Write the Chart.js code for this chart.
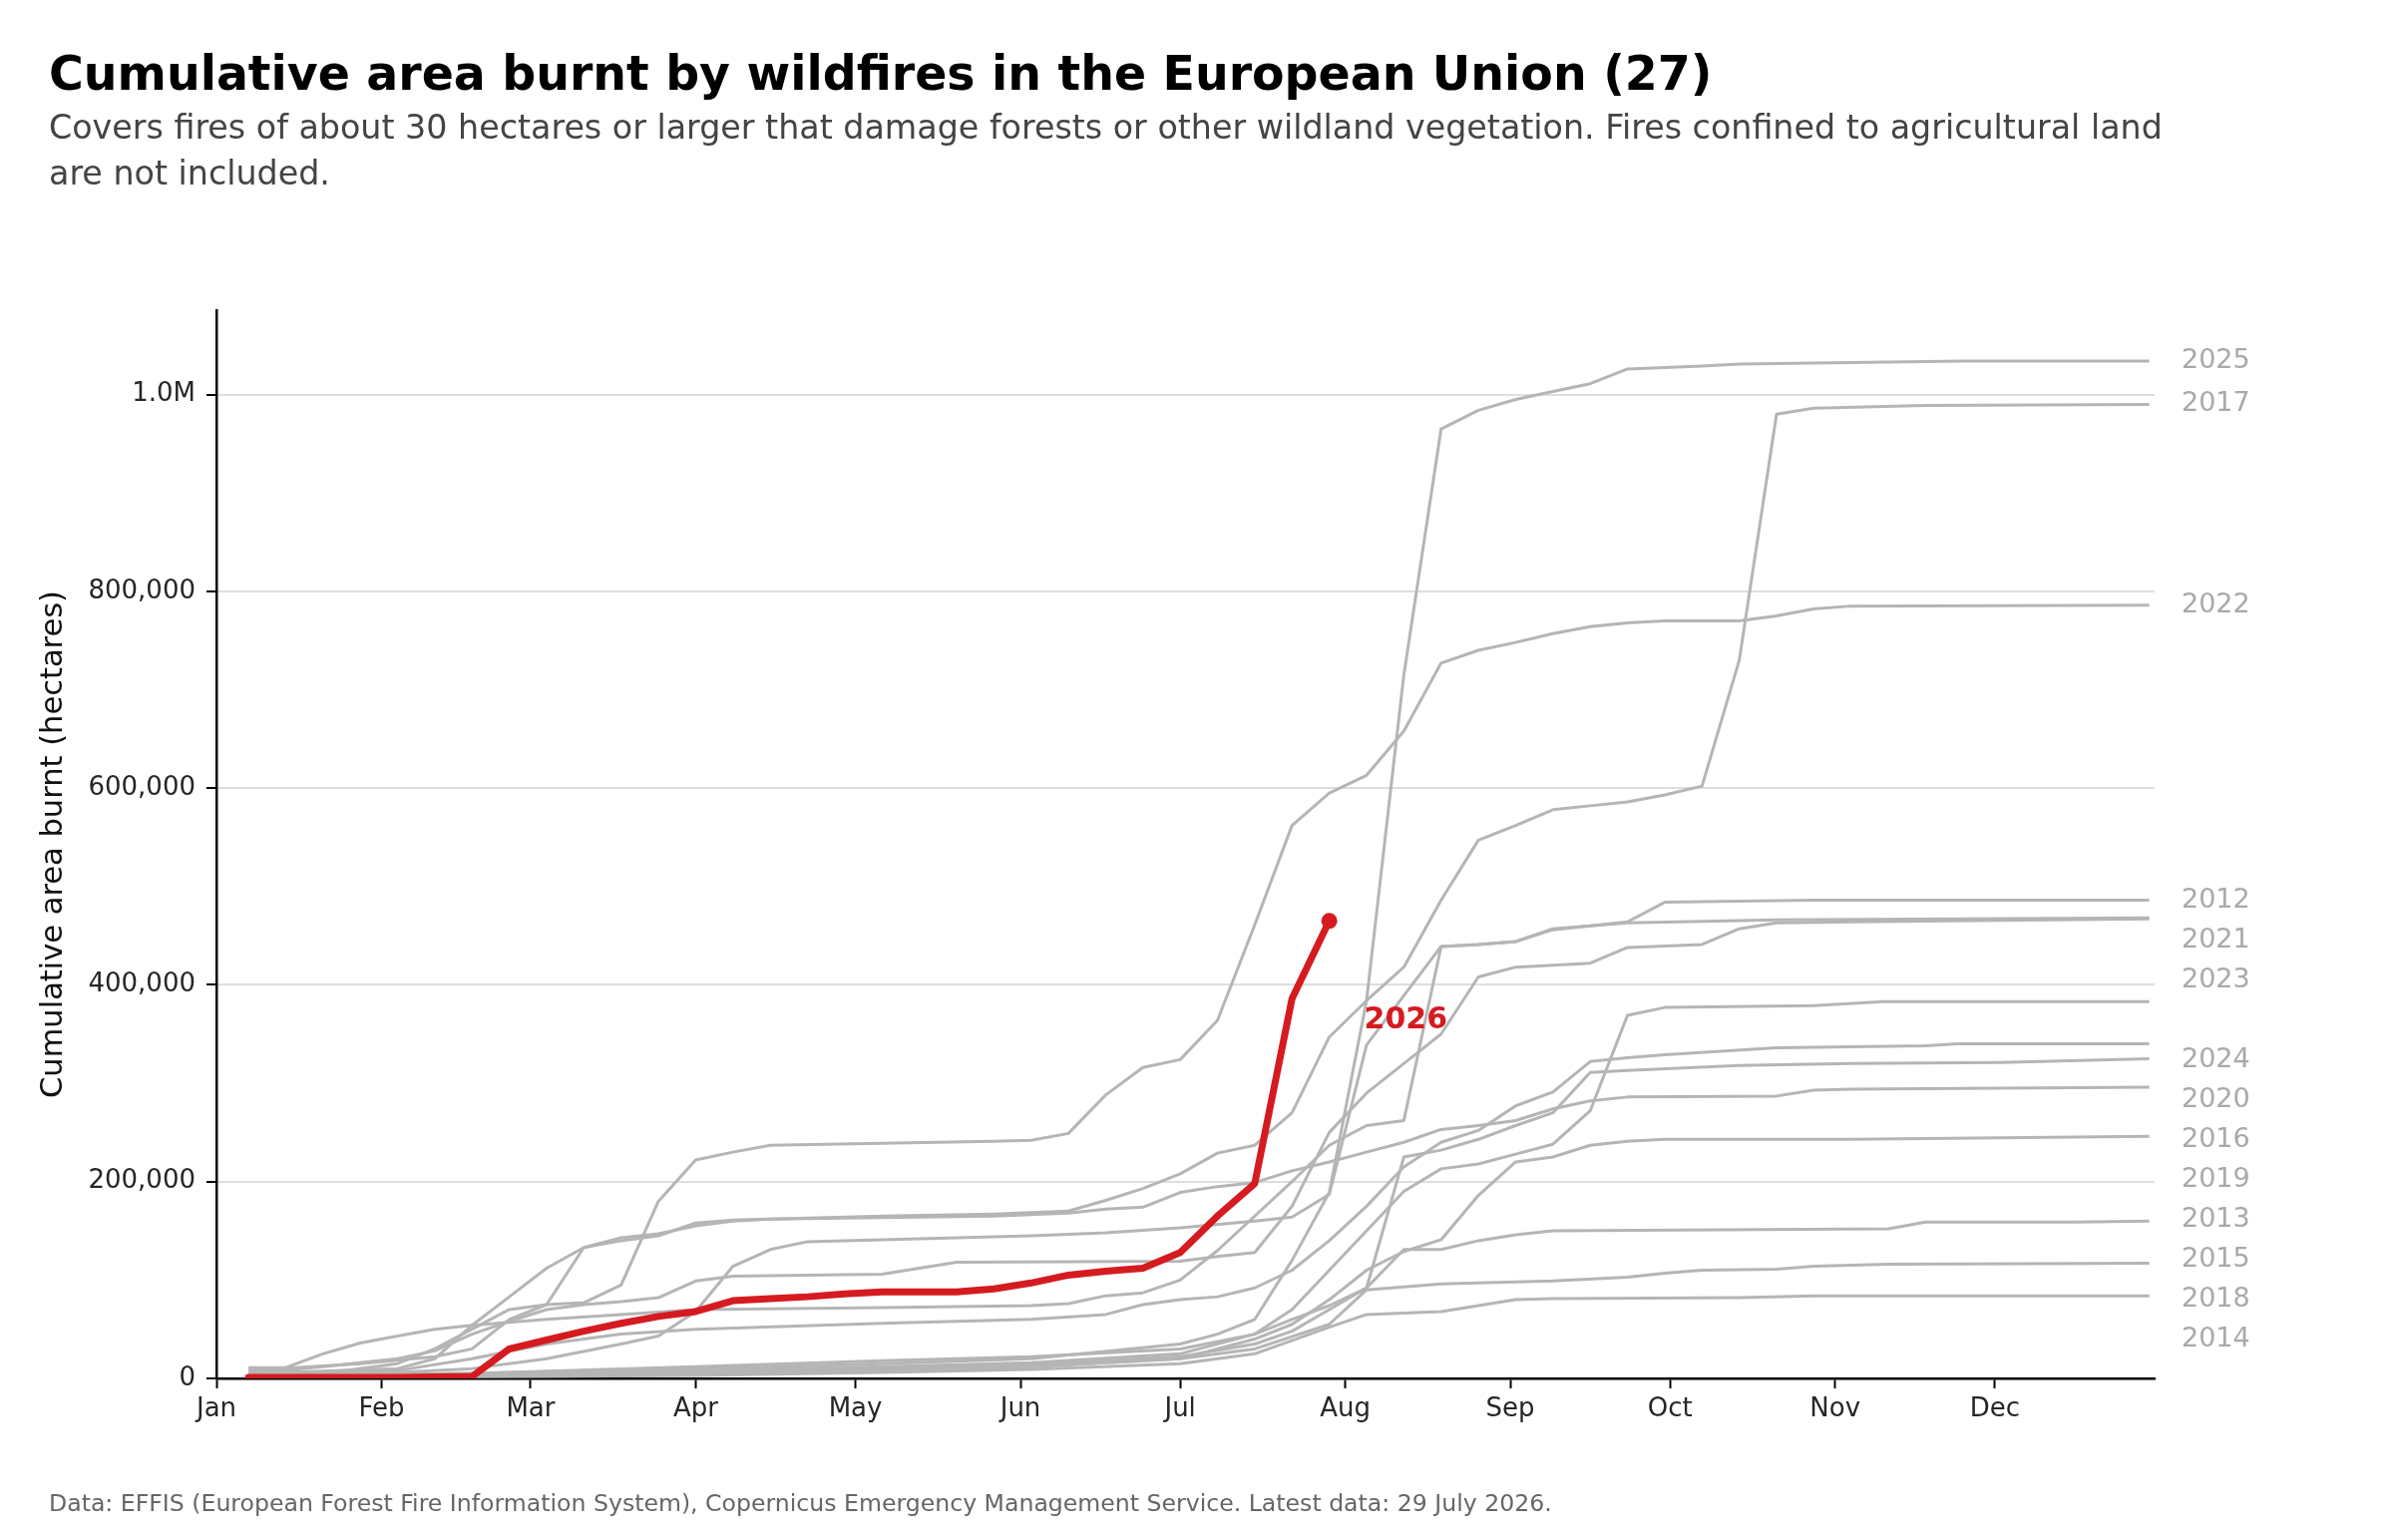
<!DOCTYPE html>
<html>
<head>
<meta charset="utf-8">
<script src="https://cdn.jsdelivr.net/npm/chart.js@4.4.1/dist/chart.umd.min.js"></script>
<style>
  html, body { margin: 0; padding: 0; background: #fff; }
  #wrap { width: 2400px; height: 1544px; }
</style>
</head>
<body>
<div id="wrap"><canvas id="chart" width="2400" height="1544"></canvas></div>
<script>
// values in thousand hectares, [day of year, cumulative area]
var K = 1000;

var y2012 = [[6,3],[34,6],[48,10],[62,20],[76,35],[83,43],[90,68],[97,114],[104,131],[111,139],[139,143],[153,145],[167,148],[181,153],[195,160],[202,164],[209,187],[216,339],[230,439],[237,441],[244,444],[251,457],[258,460],[265,464],[272,484],[300,486],[363,486]];
var y2013 = [[6,1],[62,3],[90,5],[125,8],[153,12],[181,20],[195,40],[202,55],[209,80],[216,110],[223,129],[230,141],[237,186],[244,220],[251,225],[258,237],[265,241],[272,243],[307,243],[363,246]];
var y2014 = [[6,1],[62,2],[90,3],[125,6],[153,9],[181,15],[195,25],[209,52],[216,65],[230,68],[237,74],[244,80],[251,81],[286,82],[300,84],[363,84]];
var y2015 = [[6,2],[62,5],[90,8],[125,12],[153,16],[181,25],[195,45],[202,60],[209,74],[216,92],[223,131],[230,131],[237,140],[244,146],[251,150],[314,152],[321,159],[349,159],[363,160]];
var y2016 = [[6,1],[48,3],[90,6],[125,10],[153,14],[181,22],[195,35],[202,48],[209,70],[216,92],[223,225],[230,232],[237,243],[244,257],[251,270],[258,311],[265,313],[286,318],[307,320],[335,321],[363,325]];
var y2017 = [[6,5],[34,10],[41,20],[48,54],[55,83],[62,112],[69,133],[76,140],[83,145],[90,158],[97,161],[104,162],[125,165],[146,167],[160,170],[167,181],[174,193],[181,208],[188,229],[195,237],[202,270],[209,347],[216,384],[223,418],[230,486],[237,547],[244,562],[251,578],[258,582],[265,586],[272,593],[279,602],[286,730],[293,980],[300,986],[321,989],[363,990]];
var y2018 = [[6,1],[62,3],[90,5],[125,9],[153,12],[181,20],[195,30],[209,55],[216,90],[230,96],[251,99],[265,103],[272,107],[279,110],[293,111],[300,114],[314,116],[363,117]];
var y2019 = [[6,8],[27,15],[41,22],[48,30],[55,60],[62,75],[69,133],[76,143],[83,147],[90,155],[97,160],[104,162],[146,165],[160,168],[167,172],[174,174],[181,189],[188,195],[195,199],[202,211],[209,220],[216,230],[223,240],[230,253],[237,257],[244,262],[251,274],[258,282],[265,286],[293,287],[300,293],[307,294],[363,296]];
var y2020 = [[6,2],[34,8],[48,20],[62,35],[76,45],[90,50],[125,56],[153,60],[167,65],[174,75],[181,80],[188,83],[195,92],[202,110],[209,140],[216,175],[223,215],[230,240],[237,252],[244,277],[251,291],[258,322],[265,326],[272,329],[293,336],[307,337],[321,338],[327,340],[363,340]];
var y2021 = [[6,11],[13,11],[20,25],[27,36],[34,43],[41,50],[48,54],[62,60],[76,65],[90,70],[125,72],[153,74],[160,76],[167,84],[174,87],[181,100],[188,130],[195,165],[202,200],[209,237],[216,257],[223,262],[230,439],[237,441],[244,444],[251,456],[258,460],[265,463],[293,466],[363,468]];
var y2022 = [[6,2],[20,5],[34,15],[41,30],[48,50],[55,70],[62,75],[69,77],[76,95],[83,180],[90,222],[97,230],[104,237],[146,241],[153,242],[160,249],[167,288],[174,316],[181,324],[188,364],[195,461],[202,562],[209,595],[216,613],[223,658],[230,727],[237,740],[244,748],[251,757],[258,764],[265,768],[272,770],[286,770],[293,775],[300,782],[307,785],[363,786]];
var y2023 = [[6,5],[20,12],[34,20],[41,28],[48,45],[55,58],[62,70],[69,75],[76,78],[83,82],[90,99],[97,104],[125,106],[139,118],[181,119],[188,124],[195,128],[202,175],[209,250],[216,290],[223,320],[230,350],[237,408],[244,418],[251,420],[258,422],[265,438],[279,441],[286,457],[293,463],[307,464],[363,467]];
var y2024 = [[6,2],[48,5],[90,12],[125,18],[153,22],[181,30],[195,45],[202,70],[209,110],[216,150],[223,190],[230,213],[237,218],[244,228],[251,238],[258,272],[265,369],[272,377],[300,379],[313,383],[363,383]];
var y2025 = [[6,2],[48,5],[90,10],[125,15],[153,20],[181,35],[188,45],[195,60],[202,120],[209,189],[216,384],[223,715],[230,965],[237,984],[244,995],[251,1003],[258,1011],[265,1026],[279,1029],[286,1031],[300,1032],[328,1034],[363,1034]];

// current year, weekly
var days2026 = [6,13,20,27,34,41,48,55,62,69,76,83,90,97,104,111,118,125,132,139,146,153,160,167,174,181,188,195,202,209];
var burnt2026 = [1,1,1,1,1,1.5,2,30,39,48,56,63,68,79,81,83,86,88,88,88,91,97,105,109,112,128,165,198,386,465];

var pastYears = [2012,2013,2014,2015,2016,2017,2018,2019,2020,2021,2022,2023,2024,2025];
var pastSeries = [y2012,y2013,y2014,y2015,y2016,y2017,y2018,y2019,y2020,y2021,y2022,y2023,y2024,y2025];

var monthStarts = [0,31,59,90,120,151,181,212,243,273,304,334];
var monthNames = ['Jan','Feb','Mar','Apr','May','Jun','Jul','Aug','Sep','Oct','Nov','Dec'];
var yTicks = [0,200000,400000,600000,800000,1000000];

var GREY = '#b5b5b5';
var RED = '#d51b20';

var datasets = [];
var red = days2026.map(function(d, i) { return {x: d, y: burnt2026[i] * K}; });
datasets.push({
  label: '2026',
  data: red,
  borderColor: RED,
  backgroundColor: RED,
  borderWidth: 7,
  pointRadius: function(c) { return c.dataIndex === red.length - 1 ? 8 : 0; },
  pointBorderWidth: 0,
  borderJoinStyle: 'round',
  borderCapStyle: 'round'
});
pastSeries.forEach(function(s, i) {
  datasets.push({
    label: String(pastYears[i]),
    data: s.map(function(p) { return {x: p[0], y: p[1] * K}; }),
    borderColor: GREY,
    borderWidth: 3,
    pointRadius: 0,
    borderJoinStyle: 'round'
  });
});

var maxVal = 0;
datasets.forEach(function(ds) { ds.data.forEach(function(p) { if (p.y > maxVal) maxVal = p.y; }); });

var FONT = '"DejaVu Sans", Verdana, sans-serif';

var textPlugin = {
  id: 'texts',
  afterDatasetsDraw: function(chart) {
    var ctx = chart.ctx;
    var ys = chart.scales.y;
    var xs = chart.scales.x;
    ctx.save();

    // year labels at line ends, pushed apart so they don't overlap
    // (the current year keeps a slot in the stack but is labelled on the line itself)
    var labels = [];
    for (var i = 0; i < chart.data.datasets.length; i++) {
      var d = chart.data.datasets[i].data;
      labels.push({text: chart.data.datasets[i].label, y: ys.getPixelForValue(d[d.length - 1].y), hidden: i === 0});
    }
    labels.sort(function(a, b) { return a.y - b.y; });
    for (var j = 1; j < labels.length; j++) {
      if (labels[j].y < labels[j - 1].y + 40) labels[j].y = labels[j - 1].y + 40;
    }
    ctx.font = '27px ' + FONT;
    ctx.fillStyle = '#a9a9a9';
    ctx.textAlign = 'left';
    ctx.textBaseline = 'middle';
    labels.forEach(function(l) {
      if (!l.hidden) ctx.fillText(l.text, chart.chartArea.right + 27, l.y);
    });

    // current year label
    var last = chart.data.datasets[0].data[chart.data.datasets[0].data.length - 1];
    ctx.font = 'bold 30px ' + FONT;
    ctx.fillStyle = RED;
    ctx.textBaseline = 'alphabetic';
    ctx.fillText('2026', xs.getPixelForValue(last.x) + 35, ys.getPixelForValue(last.y) + 108);
    ctx.restore();
  },
  afterDraw: function(chart) {
    var ctx = chart.ctx;
    ctx.save();
    ctx.textAlign = 'left';
    ctx.textBaseline = 'alphabetic';
    ctx.fillStyle = '#000';
    ctx.font = 'bold 47.4px ' + FONT;
    ctx.fillText('Cumulative area burnt by wildfires in the European Union (27)', 49, 90);
    ctx.fillStyle = '#444';
    ctx.font = '33.3px ' + FONT;
    ctx.fillText('Covers fires of about 30 hectares or larger that damage forests or other wildland vegetation. Fires confined to agricultural land', 49, 139);
    ctx.fillText('are not included.', 49, 185);
    ctx.fillStyle = '#666';
    ctx.font = '23.6px ' + FONT;
    ctx.fillText('Data: EFFIS (European Forest Fire Information System), Copernicus Emergency Management Service. Latest data: 29 July 2026.', 49, 1515);

    // y axis title
    var area = chart.chartArea;
    ctx.translate(54, (area.top + area.bottom) / 2);
    ctx.rotate(-Math.PI / 2);
    ctx.textAlign = 'center';
    ctx.textBaseline = 'middle';
    ctx.fillStyle = '#111';
    ctx.font = '30.5px ' + FONT;
    ctx.fillText('Cumulative area burnt (hectares)', 0, 0);
    ctx.restore();
  }
};

var chart = new Chart(document.getElementById('chart').getContext('2d'), {
  type: 'line',
  data: {datasets: datasets},
  options: {
    responsive: false,
    devicePixelRatio: 1,
    animation: false,
    layout: {padding: {top: 311, right: 240, left: 0, bottom: 0}},
    plugins: {legend: {display: false}, tooltip: {enabled: false}, title: {display: false}},
    elements: {line: {tension: 0}},
    scales: {
      x: {
        type: 'linear',
        min: 0,
        max: 364,
        afterFit: function(s) { s.height = 162; },
        afterBuildTicks: function(s) { s.ticks = monthStarts.map(function(v) { return {value: v}; }); },
        ticks: {
          autoSkip: false,
          maxRotation: 0,
          padding: 6,
          color: '#262626',
          font: {family: FONT, size: 26},
          callback: function(v) { return monthNames[monthStarts.indexOf(v)]; }
        },
        grid: {display: true, drawOnChartArea: false, drawTicks: true, tickLength: 10, tickColor: '#000', tickWidth: 2},
        border: {display: true, color: '#000', width: 2.5}
      },
      y: {
        type: 'linear',
        min: 0,
        max: maxVal * 1.05,
        afterFit: function(s) { s.width = 217; },
        afterBuildTicks: function(s) { s.ticks = yTicks.map(function(v) { return {value: v}; }); },
        ticks: {
          padding: 11,
          color: '#262626',
          font: {family: FONT, size: 26},
          callback: function(v) { return v === 1000000 ? '1.0M' : v.toLocaleString('en-US'); }
        },
        grid: {color: '#dedede', lineWidth: 2, drawTicks: true, tickLength: 10, tickColor: '#000', tickWidth: 2},
        border: {display: true, color: '#000', width: 2.5}
      }
    }
  },
  plugins: [textPlugin]
});
</script>
</body>
</html>
